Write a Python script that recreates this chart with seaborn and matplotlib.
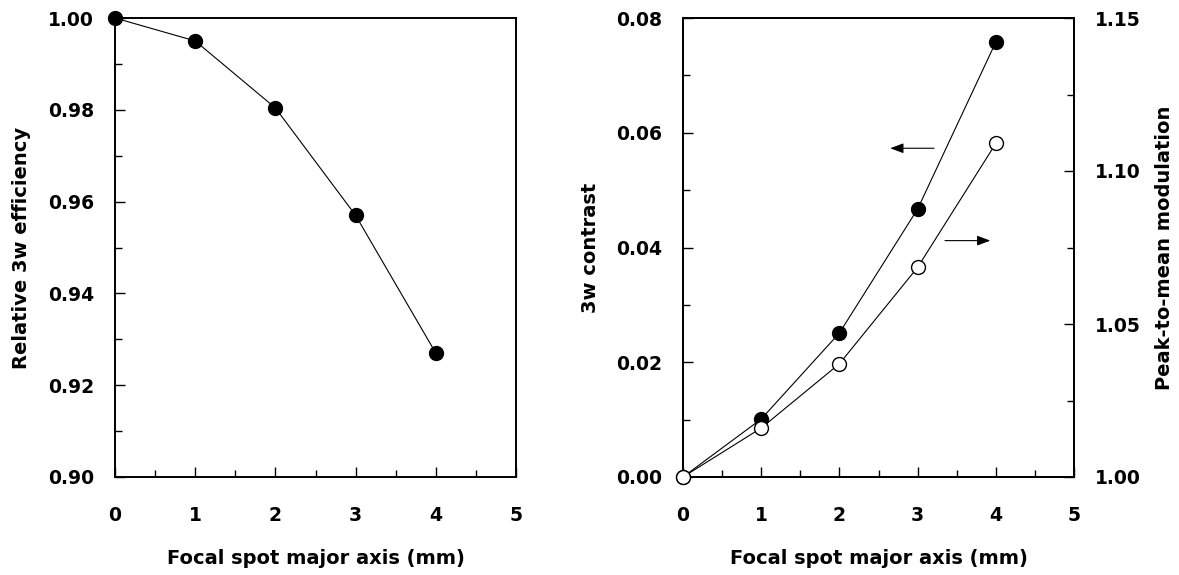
import matplotlib
matplotlib.use("Agg")
import matplotlib.pyplot as plt
import seaborn as sns
import pandas as pd
from matplotlib.ticker import MultipleLocator, FormatStrFormatter

# Data
focal_spot = [0, 1, 2, 3, 4]
rel_efficiency = [1.000, 0.995, 0.9804, 0.957, 0.927]
contrast_3w = [0.000, 0.0101, 0.0251, 0.0467, 0.0758]
peak_to_mean = [1.000, 1.016, 1.037, 1.0685, 1.109]

sns.set_style("ticks")
plt.rcParams['font.family'] = ['DejaVu Sans']
plt.rcParams['font.weight'] = 'bold'
plt.rcParams['axes.labelweight'] = 'bold'
plt.rcParams['text.color'] = 'black'
plt.rcParams['axes.labelcolor'] = 'black'

FS = 13.5
LFS = 14
W, H = 1179, 575
fig = plt.figure(figsize=(W / 100, H / 100), dpi=100)
ax1 = fig.add_axes([115 / W, 1 - 477 / H, (516 - 115) / W, (477 - 18) / H])
ax2 = fig.add_axes([683 / W, 1 - 477 / H, (1074 - 683) / W, (477 - 18) / H])
ax3 = ax2.twinx()

df1 = pd.DataFrame({"x": focal_spot, "y": rel_efficiency})
df2 = pd.DataFrame({"x": focal_spot, "y": contrast_3w})
df3 = pd.DataFrame({"x": focal_spot, "y": peak_to_mean})

line_kw = dict(color="black", linewidth=0.8, marker="o", markersize=10,
               markeredgecolor="black", markeredgewidth=1.0, clip_on=False, zorder=5)

sns.lineplot(data=df1, x="x", y="y", ax=ax1, markerfacecolor="black", **line_kw)
sns.lineplot(data=df2, x="x", y="y", ax=ax2, markerfacecolor="black", **line_kw)
sns.lineplot(data=df3, x="x", y="y", ax=ax3, markerfacecolor="white", **line_kw)

for ax in (ax1, ax2, ax3):
    for s in ax.spines.values():
        s.set_visible(True)
        s.set_linewidth(1.4)
        s.set_color("black")
    ax.tick_params(which="both", direction="in", colors="black", labelsize=FS)
    ax.tick_params(which="major", length=7, width=1.0)
    ax.tick_params(which="minor", length=5, width=1.0)

for ax in (ax1, ax2):
    ax.set_xlim(0, 5)
    ax.xaxis.set_major_locator(MultipleLocator(1))
    ax.xaxis.set_minor_locator(MultipleLocator(0.5))
    ax.yaxis.set_major_locator(MultipleLocator(0.02))
    ax.yaxis.set_minor_locator(MultipleLocator(0.01))
    ax.yaxis.set_major_formatter(FormatStrFormatter("%.2f"))
    ax.tick_params(axis="x", which="both", pad=21)
    ax.tick_params(axis="y", which="both", pad=15)
    ax.set_xlabel("Focal spot major axis (mm)", fontsize=LFS, fontweight="bold", color="black")
    ax.xaxis.set_label_coords(0.5, (477 - 558) / 459)
    ax.xaxis.label.set_va("center")

# Left panel
ax1.set_ylim(0.90, 1.00)
ax1.set_ylabel("Relative 3w efficiency", fontsize=LFS, fontweight="bold", color="black")
ax1.yaxis.set_label_coords((22 - 115) / 401, 0.5)

# Right panel
ax2.set_ylim(0.0, 0.08)
ax2.set_ylabel("3w contrast", fontsize=LFS, fontweight="bold", color="black")
ax2.yaxis.set_label_coords((590 - 683) / 391, 0.5)

ax3.set_ylim(1.00, 1.15)
ax3.yaxis.set_major_locator(MultipleLocator(0.05))
ax3.yaxis.set_minor_locator(MultipleLocator(0.025))
ax3.yaxis.set_major_formatter(FormatStrFormatter("%.2f"))
ax3.tick_params(axis="y", which="both", pad=15)
ax3.set_ylabel("Peak-to-mean modulation", fontsize=LFS, fontweight="bold", color="black")
ax3.yaxis.set_label_coords((1164 - 683) / 391, 0.5)
ax3.set_xlabel("")

for lbl in (ax1.yaxis.label, ax2.yaxis.label, ax3.yaxis.label):
    lbl.set_va("center")
    lbl.set_ha("center")

for ax in (ax1, ax2, ax3):
    for lab in ax.get_xticklabels() + ax.get_yticklabels():
        lab.set_fontweight("bold")
        lab.set_color("black")

# Arrows
arrow_kw = dict(arrowstyle="-|>,head_length=0.8,head_width=0.3", color="black", lw=0.8,
                shrinkA=0, shrinkB=0)
ax2.annotate("", xy=(2.65, 0.0573), xytext=(3.21, 0.0573), arrowprops=arrow_kw)
ax2.annotate("", xy=(3.93, 0.0412), xytext=(3.35, 0.0412), arrowprops=arrow_kw)

fig.savefig("out.png", dpi=100)
